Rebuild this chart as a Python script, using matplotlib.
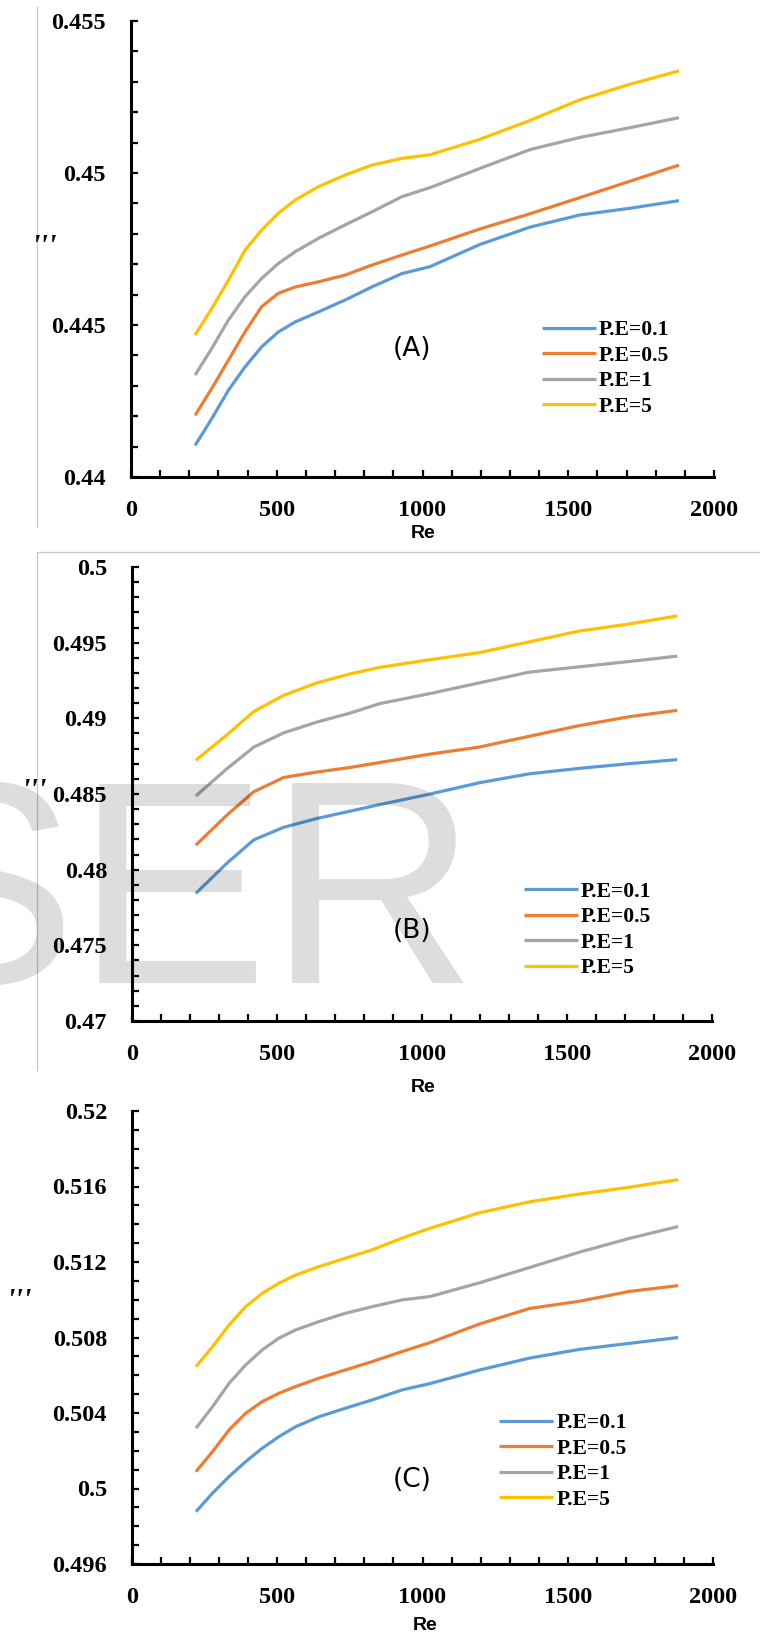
import matplotlib
matplotlib.use('Agg')
import matplotlib.pyplot as plt
from matplotlib.ticker import MultipleLocator, FuncFormatter
from matplotlib.lines import Line2D

labels = ['P.E=0.1', 'P.E=0.5', 'P.E=1', 'P.E=5']
colors = ['#5B9BD5', '#ED7D31', '#A5A5A5', '#FFC000']

# Re values in panels A and C
re_ac = [220, 277, 334, 391, 448, 505, 563, 643, 734, 826, 929, 1026, 1197, 1369, 1540, 1712, 1880]
# Re values in panel B
re_b = [220, 328, 420, 523, 637, 751, 854, 1026, 1197, 1369, 1540, 1712, 1880]

# panel A
a_pe01 = [0.44104, 0.44192, 0.44285, 0.44362, 0.44428, 0.44477, 0.44510, 0.44543, 0.44582, 0.44625, 0.44669,
          0.44692, 0.44765, 0.44822, 0.44862, 0.44884, 0.44909]
a_pe05 = [0.44203, 0.44291, 0.44384, 0.44477, 0.44560, 0.44604, 0.44625, 0.44642, 0.44664, 0.44697, 0.44730,
          0.44760, 0.44816, 0.44866, 0.44919, 0.44973, 0.45026]
a_pe1 = [0.44335, 0.44423, 0.44516, 0.44593, 0.44653, 0.44702, 0.44741, 0.44785, 0.44829, 0.44872, 0.44922,
         0.44952, 0.45015, 0.45077, 0.45117, 0.45149, 0.45182]
a_pe5 = [0.44467, 0.44554, 0.44647, 0.44746, 0.44812, 0.44867, 0.44911, 0.44955, 0.44993, 0.45026, 0.45048,
         0.45060, 0.45111, 0.45173, 0.45241, 0.45292, 0.45336]

# panel B
b_pe01 = [0.47843, 0.48044, 0.48197, 0.48280, 0.48338, 0.48386, 0.48430, 0.48499, 0.48574, 0.48633, 0.48669, 0.48700, 0.48727]
b_pe05 = [0.48162, 0.48362, 0.48515, 0.48609, 0.48645, 0.48675, 0.48708, 0.48763, 0.48810, 0.48881, 0.48951, 0.49010, 0.49053]
b_pe1 = [0.48487, 0.48668, 0.48810, 0.48904, 0.48975, 0.49034, 0.49097, 0.49163, 0.49234, 0.49305, 0.49340, 0.49375, 0.49411]
b_pe5 = [0.48723, 0.48892, 0.49045, 0.49152, 0.49234, 0.49293, 0.49337, 0.49387, 0.49434, 0.49505, 0.49576, 0.49623, 0.49677]

# panel C
c_pe01 = [0.49877, 0.49975, 0.50063, 0.50142, 0.50213, 0.50274, 0.50327, 0.50380, 0.50425, 0.50469, 0.50522,
          0.50556, 0.50628, 0.50691, 0.50737, 0.50769, 0.50800]
c_pe05 = [0.50089, 0.50195, 0.50310, 0.50398, 0.50460, 0.50504, 0.50540, 0.50584, 0.50628, 0.50672, 0.50725,
          0.50773, 0.50872, 0.50954, 0.50992, 0.51044, 0.51075]
c_pe1 = [0.50319, 0.50433, 0.50557, 0.50654, 0.50734, 0.50796, 0.50840, 0.50884, 0.50928, 0.50963, 0.50999,
         0.51017, 0.51090, 0.51171, 0.51252, 0.51325, 0.51388]
c_pe5 = [0.50645, 0.50751, 0.50866, 0.50963, 0.51034, 0.51087, 0.51131, 0.51175, 0.51220, 0.51264, 0.51326,
         0.51379, 0.51461, 0.51519, 0.51560, 0.51596, 0.51636]

panels = [
    dict(tag='(A)', x=re_ac, series=[a_pe01, a_pe05, a_pe1, a_pe5], ylim=(0.44, 0.455), major=0.005,
         rect=(131, 21, 714, 477), leg=(0.705, 0.238), tagpos=(0.482, 0.280),
         re_pos=(423, 533), yl_pos=(45, 248)),
    dict(tag='(B)', x=re_b, series=[b_pe01, b_pe05, b_pe1, b_pe5], ylim=(0.47, 0.5), major=0.005,
         rect=(132, 567, 712, 1021), leg=(0.676, 0.2006), tagpos=(0.483, 0.199),
         re_pos=(423, 1088), yl_pos=(35, 793)),
    dict(tag='(C)', x=re_ac, series=[c_pe01, c_pe05, c_pe1, c_pe5], ylim=(0.496, 0.52), major=0.004,
         rect=(132, 1111, 713, 1564), leg=(0.632, 0.226), tagpos=(0.482, 0.1865),
         re_pos=(425, 1626), yl_pos=(20, 1303)),
]

W, H = 760, 1636
fig = plt.figure(figsize=(W / 100, H / 100), dpi=100)

fmt = FuncFormatter(lambda v, p: '%g' % round(v, 4))

for p in panels:
    x0, y0, x1, y1 = p['rect']
    ax = fig.add_axes([x0 / W, 1 - y1 / H, (x1 - x0) / W, (y1 - y0) / H])
    ax.set_facecolor('none')
    for s, c, lab in zip(p['series'], colors, labels):
        ax.plot(p['x'], s, color=c, lw=2.3, label=lab, solid_capstyle='butt', solid_joinstyle='round')
    ax.set_xlim(0, 2000)
    ax.set_ylim(*p['ylim'])
    ax.xaxis.set_major_locator(MultipleLocator(500))
    ax.xaxis.set_minor_locator(MultipleLocator(100))
    ax.yaxis.set_major_locator(MultipleLocator(p['major']))
    ax.yaxis.set_minor_locator(MultipleLocator(0.001))
    ax.yaxis.set_major_formatter(fmt)
    for side in ['top', 'right']:
        ax.spines[side].set_visible(False)
    for side in ['left', 'bottom']:
        ax.spines[side].set_linewidth(2.2)
    ax.tick_params(which='both', direction='in', length=5, width=1.6, color='black')
    ax.tick_params(axis='y', which='major', pad=18)
    ax.tick_params(axis='x', which='major', pad=16.5)
    for t in ax.get_xticklabels() + ax.get_yticklabels():
        t.set_fontfamily('Liberation Serif')
        t.set_fontweight('bold')
        t.set_fontsize(17.5)

    leg = ax.legend(loc='center left', bbox_to_anchor=p['leg'], frameon=False,
                    borderpad=0, borderaxespad=0, handlelength=2.5, handletextpad=0.15,
                    labelspacing=0.25, prop=dict(family='Liberation Serif', weight='bold', size=15.5))
    for h in leg.get_lines():
        h.set_linewidth(2.3)

    ax.text(p['tagpos'][0], p['tagpos'][1], p['tag'], transform=ax.transAxes,
            ha='center', va='center', fontsize=19, family='DejaVu Sans')

    fig.text(p['re_pos'][0] / W, 1 - p['re_pos'][1] / H, 'Re', ha='center', va='center',
             fontsize=14, family='Liberation Sans', weight='bold')
    fig.text(p['yl_pos'][0] / W, 1 - p['yl_pos'][1] / H, "'''", ha='center', va='center',
             fontsize=22, family='Liberation Serif', weight='bold', style='italic')

# thin grey frame lines from the source page
grey = '#c8c8c8'
fig.add_artist(Line2D([37 / W, 37 / W], [1 - 7 / H, 1 - 527 / H], color=grey, lw=0.9))
fig.add_artist(Line2D([37 / W, 1.0], [1 - 552 / H, 1 - 552 / H], color=grey, lw=0.9))
fig.add_artist(Line2D([37 / W, 37 / W], [1 - 552 / H, 1 - 1070 / H], color=grey, lw=0.9))

# watermark over panel B
fig.text(-116 / W, 1 - 983 / H, 'SER', ha='left', va='baseline', fontsize=208,
         family='Liberation Sans', color='black', alpha=0.135, zorder=10)

fig.savefig('out.png', dpi=100)
